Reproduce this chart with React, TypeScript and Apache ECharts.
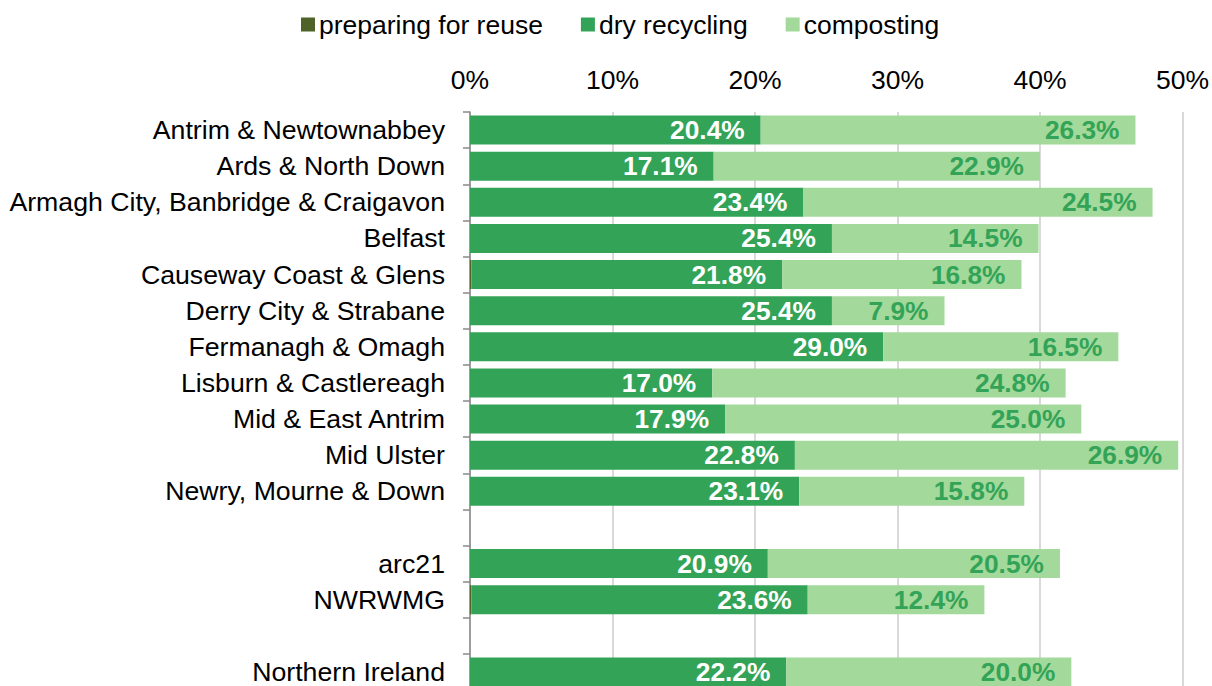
import React, { useEffect, useRef } from "react";
import * as echarts from "echarts";

const categories = [
  "Antrim & Newtownabbey",
  "Ards & North Down",
  "Armagh City, Banbridge & Craigavon",
  "Belfast",
  "Causeway Coast & Glens",
  "Derry City & Strabane",
  "Fermanagh & Omagh",
  "Lisburn & Castlereagh",
  "Mid & East Antrim",
  "Mid Ulster",
  "Newry, Mourne & Down",
  "",
  "arc21",
  "NWRWMG",
  " ",
  "Northern Ireland",
];

const preparingForReuse = [0, 0, 0, 0, 0.1, 0, 0, 0, 0, 0, 0, null, 0, 0.1, null, 0];
const dryRecycling = [20.4, 17.1, 23.4, 25.4, 21.8, 25.4, 29.0, 17.0, 17.9, 22.8, 23.1, null, 20.9, 23.6, null, 22.2];
const composting = [26.3, 22.9, 24.5, 14.5, 16.8, 7.9, 16.5, 24.8, 25.0, 26.9, 15.8, null, 20.5, 12.4, null, 20.0];

const FONT = "'Liberation Sans', Arial, sans-serif";

export default function App() {
  const ref = useRef<HTMLDivElement>(null);
  useEffect(() => {
    if (!ref.current) return;
    const chart = echarts.init(ref.current, null, { renderer: "svg" });
    const labelFmt = (p: any) => (p.value == null ? "" : Number(p.value).toFixed(1) + "%");
    chart.setOption({
      animation: false,
      textStyle: { fontFamily: FONT },
      legend: {
        top: 6,
        left: 296,
        itemWidth: 14,
        itemHeight: 14,
        itemGap: 38,
        icon: "rect",
        textStyle: { fontSize: 26.5, color: "#000", fontFamily: FONT, padding: [0, 0, 0, -1] },
        data: ["preparing for reuse", "dry recycling", "composting"],
      },
      grid: { left: 470, right: 29, top: 112, bottom: 10, containLabel: false },
      xAxis: {
        type: "value",
        position: "top",
        min: 0,
        max: 50,
        interval: 10,
        axisLine: { show: false },
        axisTick: { show: false },
        axisLabel: { formatter: "{value}%", fontSize: 26.5, color: "#000", margin: 19, fontFamily: FONT },
        splitLine: { show: true, lineStyle: { color: "#cccccc", width: 1.5 } },
      },
      yAxis: {
        type: "category",
        inverse: true,
        data: categories,
        axisLine: { show: true, lineStyle: { color: "#898989", width: 1.5 } },
        axisTick: { show: true, length: 7, lineStyle: { color: "#898989", width: 1.5 } },
        axisLabel: { fontSize: 26.7, color: "#000", margin: 25, fontFamily: FONT },
      },
      series: [
        {
          name: "preparing for reuse",
          type: "bar",
          stack: "total",
          barCategoryGap: "20%",
          itemStyle: { color: "#4f6228" },
          data: preparingForReuse,
          label: { show: false },
        },
        {
          name: "dry recycling",
          type: "bar",
          stack: "total",
          barCategoryGap: "20%",
          itemStyle: { color: "#33a457" },
          data: dryRecycling,
          label: {
            show: true,
            position: "insideRight",
            distance: 16,
            formatter: labelFmt,
            color: "#ffffff",
            fontWeight: "bold",
            fontSize: 26.3,
            fontFamily: FONT,
          },
        },
        {
          name: "composting",
          type: "bar",
          stack: "total",
          barCategoryGap: "20%",
          itemStyle: { color: "#a3d99b" },
          data: composting,
          label: {
            show: true,
            position: "insideRight",
            distance: 16,
            formatter: labelFmt,
            color: "#33a457",
            fontWeight: "bold",
            fontSize: 26.3,
            fontFamily: FONT,
          },
        },
      ],
    });
    return () => chart.dispose();
  }, []);
  return (
    <div
      ref={ref}
      style={{ position: "fixed", left: 0, top: 0, width: 1212, height: 700, background: "#fff" }}
    />
  );
}
